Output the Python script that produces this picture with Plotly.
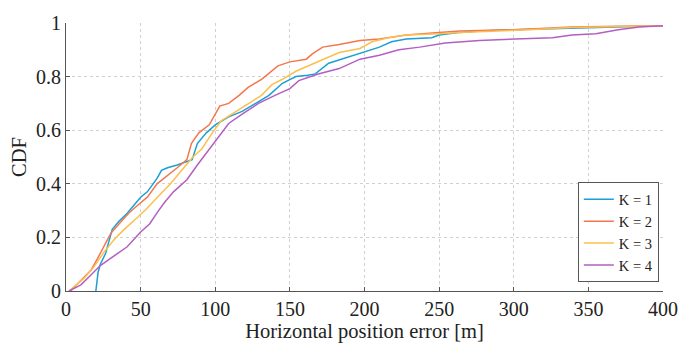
import plotly.graph_objects as go

# K = 1
k1_x = [20, 20.5, 21.5, 23, 26.5, 29, 31, 35.5, 41, 45.5, 50, 54.5, 61, 64, 68, 74.5, 80, 84.5, 88, 94, 100, 109, 118, 127, 136, 145, 154, 162, 167, 176, 187, 198, 210, 218, 228, 245, 250, 264, 277, 300, 339, 370, 400]
k1_y = [0, 0.03, 0.07, 0.10, 0.14, 0.19, 0.23, 0.26, 0.29, 0.32, 0.35, 0.37, 0.42, 0.45, 0.46, 0.47, 0.48, 0.49, 0.55, 0.59, 0.62, 0.65, 0.67, 0.70, 0.73, 0.775, 0.80, 0.805, 0.81, 0.85, 0.87, 0.89, 0.91, 0.93, 0.94, 0.945, 0.955, 0.965, 0.97, 0.975, 0.98, 0.985, 0.99]
# K = 2
k2_x = [3, 6.7, 12, 16.7, 21, 25.5, 30, 35.5, 42, 48, 54.5, 61, 68, 74.5, 81, 84, 89, 96, 103, 109, 116, 122, 131, 138, 142, 150, 161, 165, 172, 183, 197, 210, 228, 250, 264, 300, 339, 370, 400]
k2_y = [0, 0.02, 0.05, 0.077, 0.12, 0.17, 0.215, 0.25, 0.29, 0.32, 0.35, 0.40, 0.43, 0.46, 0.49, 0.55, 0.59, 0.62, 0.69, 0.70, 0.73, 0.76, 0.79, 0.82, 0.84, 0.855, 0.865, 0.885, 0.91, 0.92, 0.935, 0.94, 0.955, 0.965, 0.97, 0.975, 0.985, 0.988, 0.99]
# K = 3
k3_x = [2, 12, 18.7, 25.5, 32, 39, 48, 54.5, 63, 70, 76.7, 85, 91, 98, 104, 114, 122, 131, 138, 145, 154, 162, 172, 183, 197, 205, 216, 228, 250, 264, 310, 339, 370, 400]
k3_y = [0, 0.047, 0.09, 0.145, 0.19, 0.23, 0.275, 0.31, 0.36, 0.40, 0.445, 0.50, 0.53, 0.59, 0.635, 0.67, 0.70, 0.73, 0.77, 0.79, 0.82, 0.84, 0.865, 0.89, 0.905, 0.93, 0.945, 0.955, 0.96, 0.965, 0.975, 0.983, 0.987, 0.99]
# K = 4
k4_x = [2, 10, 16.7, 23, 32, 41, 50, 56, 62, 66, 72, 81, 88, 100, 109, 118, 129, 140, 150, 156, 169, 183, 197, 210, 223, 237, 254, 277, 297, 326, 339, 355, 370, 384, 400]
k4_y = [0, 0.023, 0.06, 0.095, 0.13, 0.165, 0.22, 0.25, 0.30, 0.33, 0.37, 0.415, 0.47, 0.56, 0.625, 0.66, 0.70, 0.73, 0.755, 0.785, 0.81, 0.83, 0.865, 0.88, 0.90, 0.91, 0.925, 0.935, 0.94, 0.945, 0.955, 0.96, 0.975, 0.985, 0.99]

names = ["K = 1", "K = 2", "K = 3", "K = 4"]
colors = ["#1a9fd6", "#f4764f", "#fcbf4d", "#b35fc2"]
series = [(k1_x, k1_y), (k2_x, k2_y), (k3_x, k3_y), (k4_x, k4_y)]

fig = go.Figure()
for (xs, ys), n, c in zip(series, names, colors):
    fig.add_trace(go.Scatter(x=xs, y=ys, mode="lines", name=n,
                             line=dict(color=c, width=1.5)))

font_family = "Liberation Serif, Times New Roman, serif"
axis_common = dict(
    showline=True, linecolor="#555", linewidth=1, mirror=False,
    ticks="inside", ticklen=4, tickcolor="#555",
    showgrid=True, gridcolor="#d0d0d0", griddash="dot", gridwidth=1,
    zeroline=False, tickfont=dict(family=font_family, size=20, color="#222"),
)
fig.update_layout(
    width=690, height=350,
    margin=dict(l=66, r=26, t=16, b=57),
    paper_bgcolor="white", plot_bgcolor="white",
    font=dict(family=font_family, color="#222"),
    xaxis=dict(range=[0, 400], tick0=0, dtick=50,
               title=dict(text="Horizontal position error [m]", font=dict(size=20.5), standoff=4),
               **axis_common),
    yaxis=dict(range=[0, 1], tick0=0, dtick=0.2,
               title=dict(text="CDF", font=dict(size=20.5), standoff=3),
               **axis_common),
    legend=dict(x=0.993, y=0.032, xanchor="right", yanchor="bottom",
                bordercolor="#555", borderwidth=1, bgcolor="white",
                font=dict(family=font_family, size=14.5, color="#222"),
                tracegroupgap=0, itemwidth=30, entrywidth=78),
    showlegend=True,
)
fig.write_html("out.html")
